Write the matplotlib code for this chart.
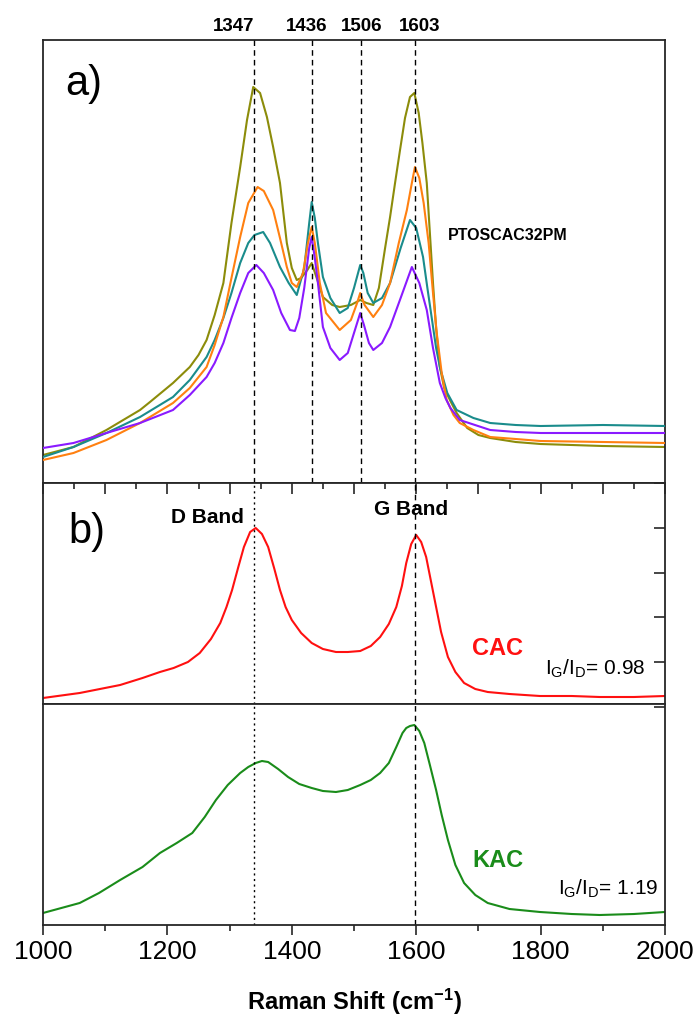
import matplotlib
matplotlib.use("Agg")
import matplotlib.pyplot as plt
from matplotlib.ticker import MultipleLocator
import matplotlib.transforms as mtransforms

plt.rcParams['font.family'] = ['Liberation Sans', 'DejaVu Sans']
plt.rcParams['mathtext.default'] = 'regular'

# ======== data (arbitrary intensity units) ========
olive_x = [1000, 1049, 1102, 1156, 1172, 1209, 1236, 1250, 1263, 1276, 1290, 1303, 1317, 1328,
           1338, 1349, 1360, 1370, 1381, 1392, 1400, 1408, 1415, 1425, 1432, 1440, 1450, 1465,
           1477, 1495, 1510, 1520, 1531, 1540, 1550, 1558, 1566, 1574, 1582, 1590, 1597, 1604,
           1610, 1617, 1622, 1627, 1632, 1638, 1645, 1655, 1665, 1682, 1700, 1719, 1760, 1800,
           1900, 2000]
olive_y = [28, 36, 53, 73, 81, 100, 116, 128, 143, 168, 200, 260, 316, 363,
           396, 390, 366, 336, 300, 240, 215, 203, 205, 213, 220, 205, 186, 178,
           176, 178, 183, 180, 178, 195, 235, 266, 300, 333, 365, 386, 390, 370,
           340, 300, 250, 200, 155, 116, 95, 82, 70, 55, 48, 45, 41, 39,
           37, 36]

orange_x = [1000, 1049, 1102, 1156, 1209, 1236, 1263, 1276, 1290, 1303, 1317, 1330, 1345, 1355,
            1370, 1381, 1392, 1400, 1408, 1418, 1426, 1432, 1437, 1445, 1455, 1477, 1495, 1505,
            1510, 1517, 1531, 1545, 1558, 1572, 1585, 1593, 1598, 1605, 1612, 1620, 1627, 1633,
            1641, 1649, 1660, 1670, 1692, 1719, 1760, 1800, 1900, 2000]
orange_y = [23, 30, 43, 60, 80, 95, 116, 138, 166, 205, 246, 280, 296, 292,
            273, 245, 216, 200, 196, 210, 240, 256, 240, 200, 170, 153, 163, 180,
            190, 178, 166, 178, 200, 240, 273, 300, 316, 305, 280, 240, 190, 150,
            110, 83, 68, 60, 53, 46, 44, 42, 41, 40]

teal_x = [1000, 1049, 1102, 1156, 1209, 1236, 1263, 1276, 1290, 1303, 1317, 1330, 1340, 1354,
          1365, 1381, 1395, 1408, 1420, 1428, 1432, 1437, 1442, 1450, 1462, 1477, 1490, 1500,
          1510, 1515, 1522, 1531, 1545, 1558, 1575, 1590, 1600, 1611, 1618, 1625, 1632, 1638,
          1650, 1665, 1692, 1719, 1760, 1800, 1900, 2000]
teal_y = [26, 36, 50, 66, 86, 103, 126, 143, 165, 190, 220, 240, 248, 251,
          240, 216, 200, 188, 215, 260, 281, 265, 240, 206, 185, 170, 175, 195,
          218, 210, 190, 180, 185, 200, 235, 263, 255, 226, 195, 165, 135, 116,
          90, 73, 65, 60, 58, 57, 58, 57]

purple_x = [1000, 1049, 1102, 1156, 1209, 1236, 1263, 1276, 1290, 1303, 1317, 1330, 1343, 1355,
            1370, 1383, 1397, 1405, 1412, 1420, 1428, 1432, 1437, 1442, 1450, 1462, 1477, 1490,
            1500, 1510, 1516, 1524, 1531, 1545, 1558, 1575, 1593, 1605, 1617, 1627, 1638, 1647,
            1655, 1670, 1719, 1760, 1800, 1900, 2000]
purple_y = [35, 40, 50, 60, 73, 88, 106, 120, 140, 165, 190, 210, 218, 210,
            193, 170, 153, 152, 165, 195, 235, 246, 225, 200, 156, 135, 123, 130,
            150, 170, 158, 140, 133, 140, 156, 185, 216, 200, 173, 135, 100, 85,
            75, 63, 53, 51, 50, 50, 50]

cac_x = [1000, 1059, 1124, 1160, 1188, 1210, 1233, 1252, 1270, 1285, 1295, 1304, 1314, 1323,
         1333, 1342, 1352, 1362, 1372, 1381, 1390, 1400, 1415, 1432, 1450, 1471, 1490, 1510,
         1527, 1542, 1556, 1568, 1577, 1584, 1592, 1600, 1608, 1616, 1624, 1632, 1640, 1651,
         1663, 1677, 1695, 1715, 1750, 1799, 1850, 1895, 1950, 2000]
cac_y = [6, 11, 19, 26, 32, 36, 42, 51, 65, 81, 97, 114, 137, 157,
         172, 176, 170, 157, 135, 114, 97, 84, 71, 61, 55, 52, 52, 53,
         58, 67, 80, 97, 118, 141, 160, 169, 162, 147, 122, 97, 72, 47,
         32, 21, 15, 12, 10, 8, 8, 7, 7, 8]

kac_x = [1000, 1059, 1090, 1124, 1160, 1188, 1215, 1240, 1260, 1278, 1297, 1317, 1330, 1342,
         1352, 1362, 1378, 1394, 1412, 1432, 1450, 1471, 1490, 1510, 1527, 1542, 1556, 1568,
         1578, 1584, 1590, 1597, 1605, 1613, 1622, 1632, 1641, 1651, 1663, 1677, 1695, 1715,
         1750, 1799, 1850, 1895, 1950, 2000]
kac_y = [12, 22, 32, 45, 58, 72, 82, 92, 108, 125, 140, 152, 158, 162,
         164, 163, 156, 148, 141, 137, 134, 133, 135, 140, 145, 152, 162, 178,
         192, 197, 199, 200, 194, 182, 160, 135, 110, 85, 60, 42, 30, 22,
         16, 13, 11, 10, 11, 13]

peak_labels = ["1347", "1436", "1506", "1603"]
peak_lines = [1340, 1432, 1512, 1598]
d_band, g_band = 1340, 1598

# ======== figure & axes ========
W, H = 697, 1021
fig = plt.figure(figsize=(W / 100, H / 100), dpi=100)

def box(left, top, right, bottom):
    return [left / W, 1 - bottom / H, (right - left) / W, (bottom - top) / H]

ax_a = fig.add_axes(box(43, 40, 665, 483))
ax_b = fig.add_axes(box(43, 483, 665, 704))
ax_c = fig.add_axes(box(43, 704, 665, 925))

spine_col = "#262626"
for ax in (ax_a, ax_b, ax_c):
    ax.set_xlim(1000, 2000)
    for s in ax.spines.values():
        s.set_color(spine_col)
        s.set_linewidth(1.3)

lw = 1.5
# ======== a) ========
ax_a.plot(olive_x, olive_y, color="#8c8c0a", lw=lw, zorder=2)
ax_a.plot(teal_x, teal_y, color="#1a8c8c", lw=lw, zorder=3)
ax_a.plot(orange_x, orange_y, color="#ff8010", lw=lw, zorder=4)
ax_a.plot(purple_x, purple_y, color="#8a1aff", lw=lw, zorder=5)
ax_a.set_ylim(0, 443)
ax_a.tick_params(left=False, bottom=False, labelleft=False, labelbottom=False)

trans_a = mtransforms.blended_transform_factory(ax_a.transData, ax_a.transAxes)
label_shift = [-33, -8, 1, 8]
for xv, lab, dx in zip(peak_lines, peak_labels, label_shift):
    ax_a.axvline(xv, color="black", lw=1.0, ls=(0, (4, 3)), zorder=6)
    ax_a.text(xv + dx, 1.012, lab, transform=trans_a, ha="center", va="bottom",
              fontsize=13.5, fontweight="bold", clip_on=False)

ax_a.text(1035, 388, "a)", fontsize=30)
ax_a.text(1651, 243, "PTOSCAC32PM", fontsize=11.5, fontweight="bold")

# ======== b) CAC ========
ax_b.plot(cac_x, cac_y, color="#ff1010", lw=lw)
ax_b.set_ylim(0, 221)
ax_b.yaxis.set_major_locator(MultipleLocator(44.7, offset=-2.7))
ax_b.xaxis.set_major_locator(MultipleLocator(100))
ax_b.xaxis.set_minor_locator(MultipleLocator(50))
ax_b.tick_params(axis="x", which="both", direction="in", bottom=False, top=True,
                 labelbottom=False, color=spine_col, width=1.2)
ax_b.tick_params(axis="x", which="major", length=8)
ax_b.tick_params(axis="x", which="minor", length=4)
ax_b.tick_params(axis="y", direction="in", left=False, right=True, labelleft=False,
                 length=8, color=spine_col, width=1.2)

ax_b.text(1040, 161, "b)", fontsize=30)
ax_b.text(1264, 181, "D Band", fontsize=15, fontweight="bold", ha="center")
ax_b.text(1592, 189, "G Band", fontsize=15, fontweight="bold", ha="center")
ax_b.text(1731, 49, "CAC", fontsize=17, fontweight="bold", color="#ff1010", ha="center")
ax_b.text(1969, 29, "$I_G/I_D$= 0.98", fontsize=15, ha="right")

# ======== c) KAC ========
ax_c.plot(kac_x, kac_y, color="#1a8c1a", lw=lw)
ax_c.set_ylim(0, 221)
ax_c.set_yticks([218])
ax_c.xaxis.set_major_locator(MultipleLocator(200))
ax_c.xaxis.set_minor_locator(MultipleLocator(100))
ax_c.tick_params(axis="x", which="both", direction="out", color=spine_col, width=1.2,
                 labelsize=19, pad=4)
ax_c.tick_params(axis="x", which="major", length=7)
ax_c.tick_params(axis="x", which="minor", length=4)
ax_c.tick_params(axis="y", direction="in", left=False, right=True, labelleft=False,
                 length=8, color=spine_col, width=1.2)
ax_c.text(1731, 58, "KAC", fontsize=17, fontweight="bold", color="#1a8c1a", ha="center")
ax_c.text(1989, 30, "$I_G/I_D$= 1.19", fontsize=15, ha="right")
ax_c.set_xlabel("Raman Shift (cm$^{-1}$)", fontsize=17, fontweight="bold", labelpad=16)

# band lines through b) and c)
for ax in (ax_b, ax_c):
    ax.axvline(d_band, color="black", lw=1.0, ls=(0, (1.5, 2.5)))
    ax.axvline(g_band, color="black", lw=1.0, ls=(0, (4, 3)))

fig.savefig("out.png", dpi=100)
